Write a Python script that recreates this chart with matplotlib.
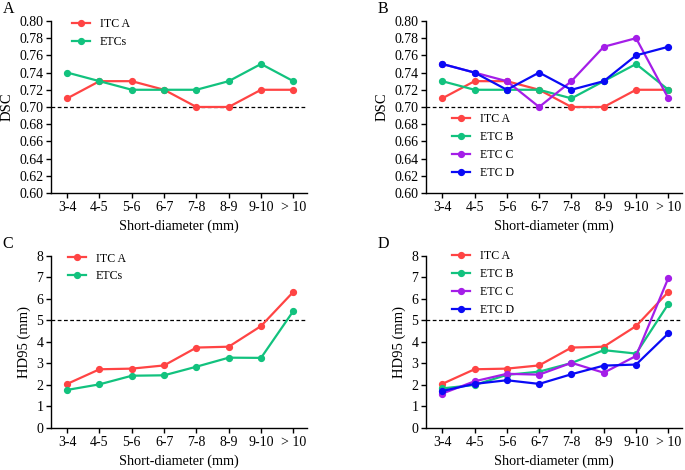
import matplotlib
matplotlib.use("Agg")
import matplotlib.pyplot as plt
import numpy as np

plt.rcParams['font.family'] = ['Liberation Serif', 'DejaVu Serif']

categories = ['3-4', '4-5', '5-6', '6-7', '7-8', '8-9', '9-10', '> 10']

# DSC
dsc_itc_a = [0.71, 0.73, 0.73, 0.72, 0.70, 0.70, 0.72, 0.72]
dsc_etcs = [0.74, 0.73, 0.72, 0.72, 0.72, 0.73, 0.75, 0.73]
dsc_etc_b = [0.73, 0.72, 0.72, 0.72, 0.71, 0.73, 0.75, 0.72]
dsc_etc_c = [0.75, 0.74, 0.73, 0.70, 0.73, 0.77, 0.78, 0.71]
dsc_etc_d = [0.75, 0.74, 0.72, 0.74, 0.72, 0.73, 0.76, 0.77]

# HD95 (mm)
hd_itc_a = [2.05, 2.73, 2.76, 2.91, 3.74, 3.78, 4.74, 6.33]
hd_etcs = [1.77, 2.03, 2.43, 2.45, 2.85, 3.27, 3.26, 5.44]
hd_etc_b = [1.84, 2.00, 2.47, 2.62, 3.02, 3.62, 3.46, 5.77]
hd_etc_c = [1.60, 2.17, 2.52, 2.48, 3.03, 2.57, 3.35, 6.98]
hd_etc_d = [1.72, 2.05, 2.22, 2.05, 2.50, 2.90, 2.95, 4.40]

RED = '#ff4444'
GREEN = '#12c27e'
PURPLE = '#a41ee8'
BLUE = '#0a0af5'

fig = plt.figure(figsize=(6.85, 4.70), dpi=100)

boxes = {
    'A': [0.0745, 0.5894, 0.374, 0.366],
    'B': [0.622, 0.5894, 0.374, 0.366],
    'C': [0.0745, 0.0894, 0.374, 0.366],
    'D': [0.622, 0.0894, 0.374, 0.366],
}

x = np.arange(len(categories))


def setup(ax, letter, ylabel, ylim, yticks, fmt, thresh):
    ax.set_xlim(-0.5, 7.43)
    ax.set_ylim(*ylim)
    ax.set_yticks(yticks)
    ax.set_yticklabels([fmt.format(v) for v in yticks])
    ax.set_xticks(x)
    ax.set_xticklabels(categories)
    ax.spines['top'].set_visible(False)
    ax.spines['right'].set_visible(False)
    ax.spines['left'].set_linewidth(1.0)
    ax.spines['bottom'].set_linewidth(1.0)
    ax.tick_params(direction='out', length=3.5, width=1.0, labelsize=10, pad=2)
    ax.set_ylabel(ylabel, fontsize=10.5, labelpad=4)
    ax.set_xlabel('Short-diameter (mm)', fontsize=10.2, labelpad=4)
    ax.axhline(thresh, color='black', linestyle=(0, (3, 2)), linewidth=0.9, zorder=1)
    ax.text(-0.19, 1.115, letter, transform=ax.transAxes, fontsize=11.5, va='top', ha='left')


def draw(ax, series, labels, colors, anchor):
    for vals, lab, col in zip(series, labels, colors):
        ax.plot(x, vals, color=col, marker='o', markersize=4.2, linewidth=1.6,
                label=lab, zorder=3, clip_on=False)
    ax.legend(loc='upper left', bbox_to_anchor=anchor, frameon=False, fontsize=8.6,
              handlelength=1.5, handletextpad=0.85, labelspacing=0.5,
              borderpad=0, borderaxespad=0)


ax = fig.add_axes(boxes['A'])
setup(ax, 'A', 'DSC', (0.60, 0.80), np.round(np.arange(0.60, 0.801, 0.02), 2), '{:.2f}', 0.70)
draw(ax, [dsc_itc_a, dsc_etcs], ['ITC A', 'ETCs'], [RED, GREEN], (0.082, 1.015))

ax = fig.add_axes(boxes['B'])
setup(ax, 'B', 'DSC', (0.60, 0.80), np.round(np.arange(0.60, 0.801, 0.02), 2), '{:.2f}', 0.70)
draw(ax, [dsc_itc_a, dsc_etc_b, dsc_etc_c, dsc_etc_d],
     ['ITC A', 'ETC B', 'ETC C', 'ETC D'], [RED, GREEN, PURPLE, BLUE], (0.10, 0.465))

ax = fig.add_axes(boxes['C'])
setup(ax, 'C', 'HD95 (mm)', (0, 8), np.arange(0, 9, 1), '{:d}', 5)
draw(ax, [hd_itc_a, hd_etcs], ['ITC A', 'ETCs'], [RED, GREEN], (0.066, 1.02))

ax = fig.add_axes(boxes['D'])
setup(ax, 'D', 'HD95 (mm)', (0, 8), np.arange(0, 9, 1), '{:d}', 5)
draw(ax, [hd_itc_a, hd_etc_b, hd_etc_c, hd_etc_d],
     ['ITC A', 'ETC B', 'ETC C', 'ETC D'], [RED, GREEN, PURPLE, BLUE], (0.10, 1.035))

fig.savefig('out.png', dpi=100)
